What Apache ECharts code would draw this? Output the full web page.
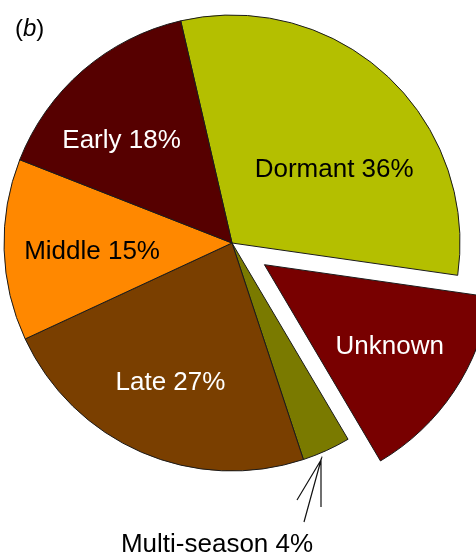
<!DOCTYPE html>
<html>
<head>
<meta charset="utf-8">
<script src="https://cdn.jsdelivr.net/npm/echarts@6/dist/echarts.min.js"></script>
<style>
  html, body { margin: 0; padding: 0; background: #fff; }
  #chart { width: 476px; height: 558px; }
</style>
</head>
<body>
<div id="chart"></div>
<script>
// slices, clockwise from the top (Unknown has no share printed)
const categories = ['Dormant', 'Unknown', 'Multi-season', 'Late', 'Middle', 'Early']
const values = [36, 16.6, 4, 27, 15, 18]
const shareText = ['36%', '', '4%', '27%', '15%', '18%']

const sliceColors = {
  'Dormant': '#b4bf00',
  'Unknown': '#780000',
  'Multi-season': '#7a7a00',
  'Late': '#7a3f00',
  'Middle': '#ff8800',
  'Early': '#560000'
}
const whiteText = ['Unknown', 'Late', 'Early']

// small nudges of the inside labels from their default spot
const labelNudge = {
  'Dormant': [23, 13],
  'Unknown': [28, 17],
  'Late': [-15, 32],
  'Middle': [-23, 5],
  'Early': [-34, -14]
}

const font = 'Liberation Sans, Arial, sans-serif'

const pieData = categories.map((name, i) => {
  const item = {
    name: name,
    value: values[i],
    itemStyle: { color: sliceColors[name] },
    label: {
      formatter: shareText[i] ? name + ' ' + shareText[i] : name,
      color: whiteText.includes(name) ? '#fff' : '#000'
    }
  }
  if (name === 'Unknown') item.selected = true
  if (name === 'Multi-season') {
    item.label.position = 'outside'
    item.labelLine = { show: true, lineStyle: { color: '#111', width: 1.2 } }
  }
  return item
})

const chart = echarts.init(document.getElementById('chart'))
chart.setOption({
  animation: false,
  title: {
    left: 10,
    top: 12,
    text: '{n|(}{i|b}{n|)}',
    textStyle: {
      fontWeight: 'normal',
      rich: {
        n: { fontFamily: font, fontSize: 24, fontWeight: 'normal', color: '#000' },
        i: { fontFamily: font, fontSize: 24, fontWeight: 'normal', fontStyle: 'italic', color: '#000' }
      }
    }
  },
  series: [
    {
      type: 'pie',
      center: [232, 243],
      radius: [0, 228],
      startAngle: 103,
      clockwise: true,
      selectedMode: 'single',
      selectedOffset: 39,
      avoidLabelOverlap: false,
      itemStyle: { borderColor: '#1a1a1a', borderWidth: 1 },
      emphasis: { disabled: true },
      label: {
        show: true,
        position: 'inside',
        fontFamily: font,
        fontSize: 26
      },
      labelLine: { show: false },
      labelLayout: function (params) {
        const name = categories[params.dataIndex]
        if (name === 'Multi-season') {
          return {
            x: 217,
            y: 545,
            align: 'center',
            verticalAlign: 'middle',
            labelLinePoints: [[297, 500], [321, 460], [304, 522], [321, 460], [321, 507]]
          }
        }
        const d = labelNudge[name] || [0, 0]
        return { dx: d[0], dy: d[1] }
      },
      data: pieData
    }
  ]
})
</script>
</body>
</html>
